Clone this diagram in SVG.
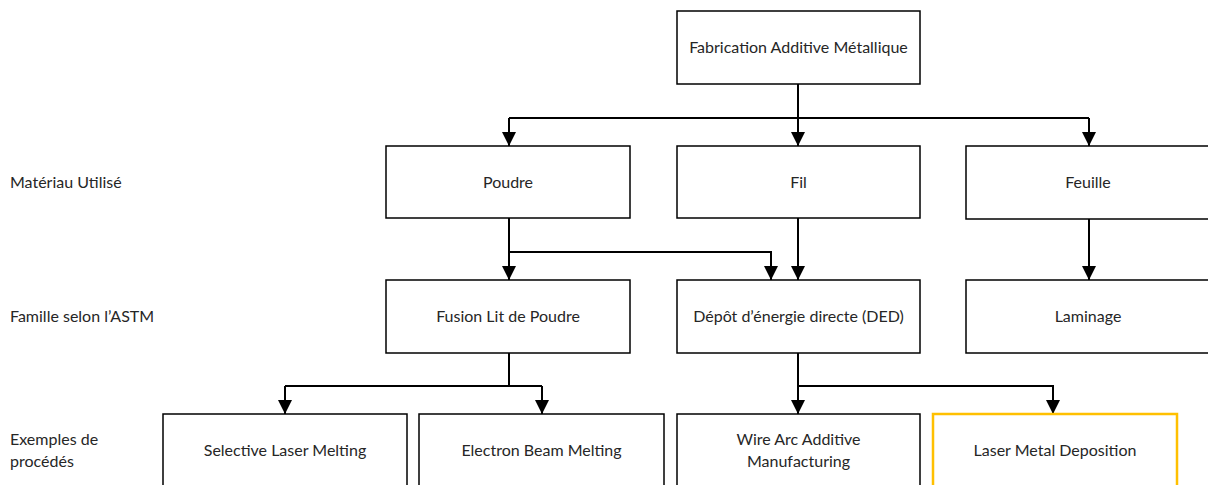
<svg xmlns="http://www.w3.org/2000/svg" width="1208" height="485" viewBox="0 0 1208 485">
<style>
  .box { fill: #ffffff; stroke: #000000; stroke-width: 1.5; }
  .hl { fill: #ffffff; stroke: #FFC000; stroke-width: 2.5; }
  .t { font-family: Lato, "Open Sans", "Liberation Sans", sans-serif; font-size: 16px; fill: #262626; text-anchor: middle; }
  .lbl { font-family: Lato, "Open Sans", "Liberation Sans", sans-serif; font-size: 16px; fill: #262626; }
  .c { fill: none; stroke: #000000; stroke-width: 2; }
</style>
<defs>
  <marker id="ah" markerWidth="14" markerHeight="14" viewBox="0 0 14 14" refX="14" refY="7" orient="auto" markerUnits="userSpaceOnUse">
    <path d="M0,0 L14,7 L0,14 Z" fill="#000000"/>
  </marker>
</defs>
<rect width="1208" height="485" fill="#ffffff"/>

<g id="labels">
  <text class="lbl" x="10" y="188">Matériau Utilisé</text>
  <text class="lbl" x="10" y="322">Famille selon l’ASTM</text>
  <text class="lbl" x="10" y="445">Exemples de</text>
  <text class="lbl" x="10" y="467">procédés</text>
</g>

<g id="connectors">
  <path class="c" d="M798,84 V118"/>
  <path class="c" d="M509,118 H1089"/>
  <path class="c" d="M509,118 V146" marker-end="url(#ah)"/>
  <path class="c" d="M798,118 V146" marker-end="url(#ah)"/>
  <path class="c" d="M1089,118 V146" marker-end="url(#ah)"/>
  <path class="c" d="M509,218 V280" marker-end="url(#ah)"/>
  <path class="c" d="M509,252 H771 V280" marker-end="url(#ah)"/>
  <path class="c" d="M798,218 V280" marker-end="url(#ah)"/>
  <path class="c" d="M1089,219 V280" marker-end="url(#ah)"/>
  <path class="c" d="M509,353 V386"/>
  <path class="c" d="M285,386 H542"/>
  <path class="c" d="M285,386 V414" marker-end="url(#ah)"/>
  <path class="c" d="M542,386 V414" marker-end="url(#ah)"/>
  <path class="c" d="M798,353 V414" marker-end="url(#ah)"/>
  <path class="c" d="M798,386 H1053 V414" marker-end="url(#ah)"/>
</g>

<g id="n-fam">
  <rect class="box" x="677" y="11" width="243" height="73"/>
  <text class="t" x="798.5" y="52.5">Fabrication Additive Métallique</text>
</g>
<g id="n-poudre">
  <rect class="box" x="386" y="146" width="244" height="72"/>
  <text class="t" x="508" y="187.5">Poudre</text>
</g>
<g id="n-fil">
  <rect class="box" x="677" y="146" width="243" height="72"/>
  <text class="t" x="798.5" y="187.5">Fil</text>
</g>
<g id="n-feuille">
  <rect class="box" x="966" y="146" width="250" height="73"/>
  <text class="t" x="1088" y="187.5">Feuille</text>
</g>
<g id="n-fusion">
  <rect class="box" x="386" y="280" width="244" height="73"/>
  <text class="t" x="508" y="322">Fusion Lit de Poudre</text>
</g>
<g id="n-ded">
  <rect class="box" x="677" y="280" width="243" height="73"/>
  <text class="t" x="798.5" y="322">Dépôt d’énergie directe (DED)</text>
</g>
<g id="n-laminage">
  <rect class="box" x="966" y="280" width="250" height="73"/>
  <text class="t" x="1088" y="322">Laminage</text>
</g>
<g id="n-slm">
  <rect class="box" x="163" y="414" width="244" height="80"/>
  <text class="t" x="285" y="456">Selective Laser Melting</text>
</g>
<g id="n-ebm">
  <rect class="box" x="419" y="414" width="245" height="80"/>
  <text class="t" x="541.5" y="456">Electron Beam Melting</text>
</g>
<g id="n-waam">
  <rect class="box" x="677" y="414" width="243" height="80"/>
  <text class="t" x="798.5" y="445">Wire Arc Additive</text>
  <text class="t" x="798.5" y="467">Manufacturing</text>
</g>
<g id="n-lmd">
  <rect class="hl" x="933" y="414" width="244" height="80"/>
  <text class="t" x="1055" y="456">Laser Metal Deposition</text>
</g>
</svg>
